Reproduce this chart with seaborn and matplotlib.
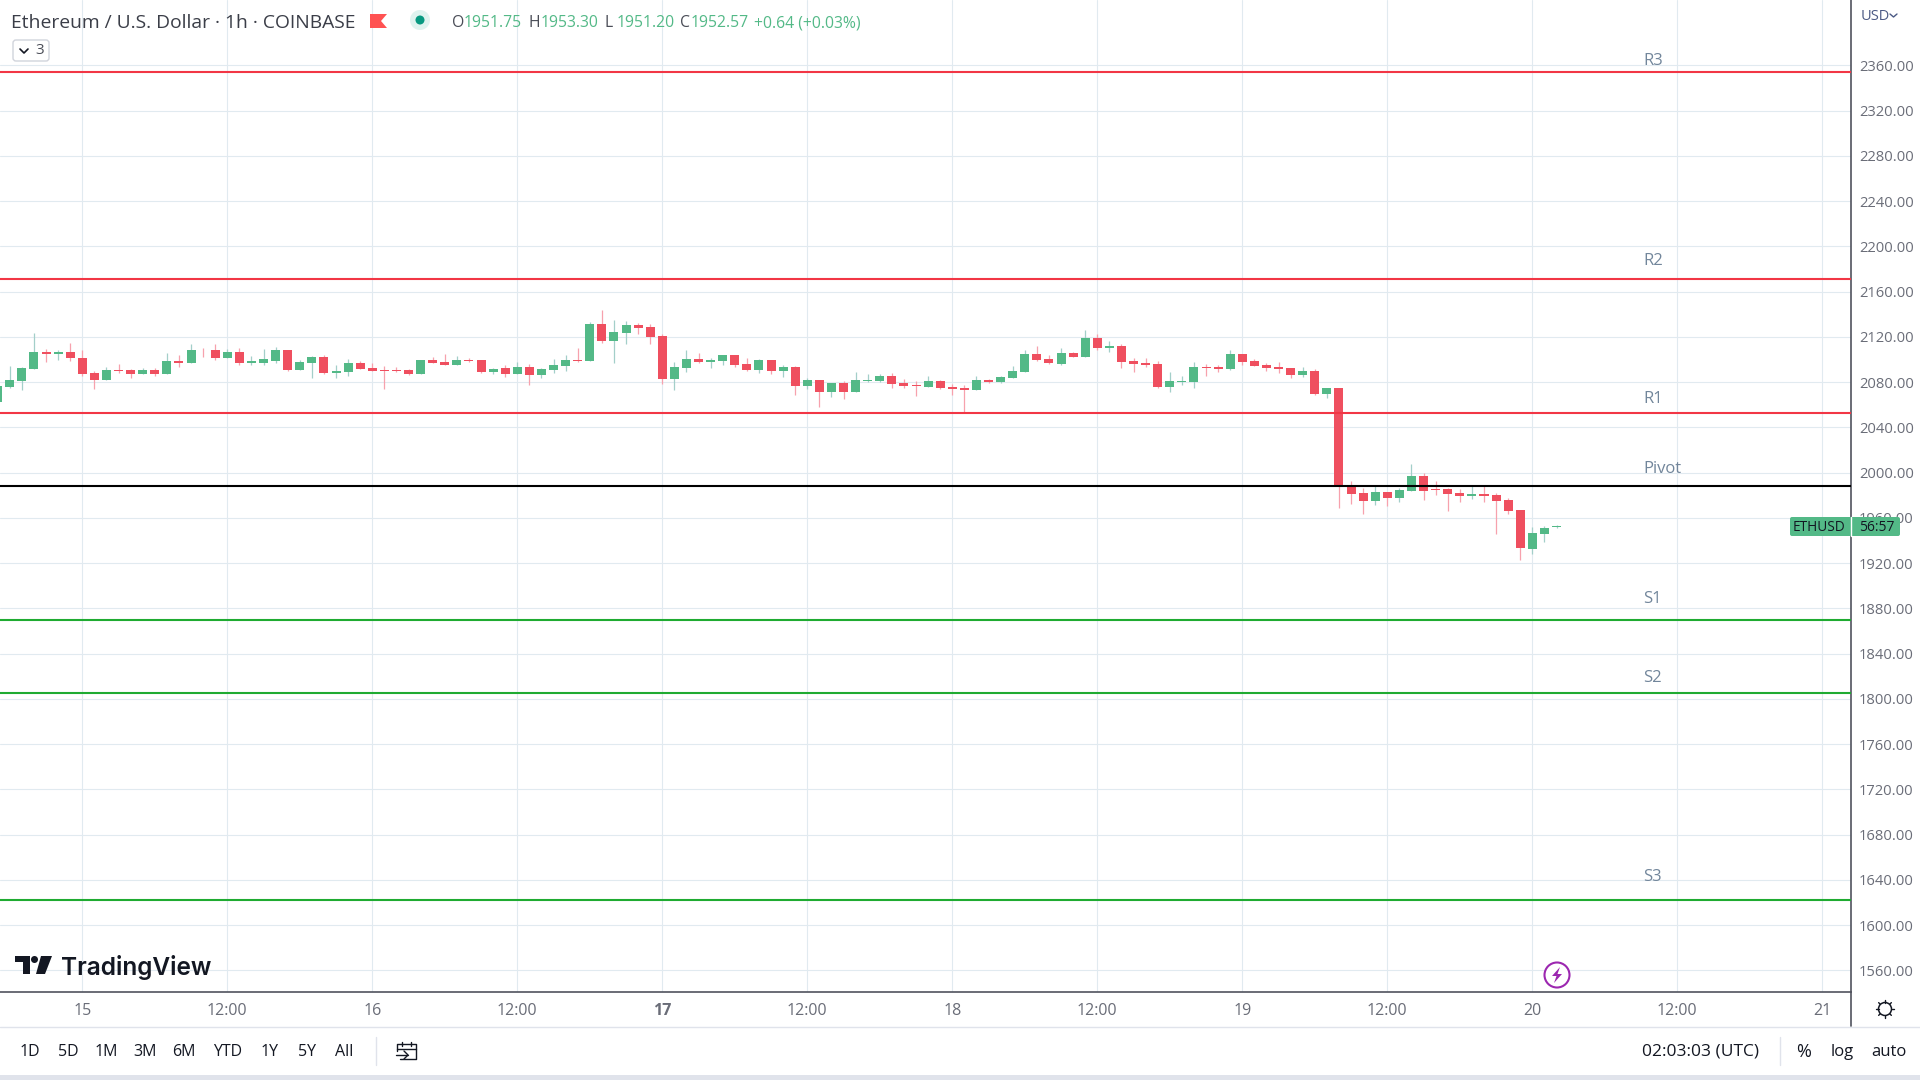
import matplotlib
matplotlib.use('Agg')
import matplotlib.pyplot as plt
from matplotlib.patches import Circle, Polygon, Rectangle, FancyBboxPatch
import numpy as np
import pandas as pd
import seaborn as sns

# hours counted from 15th 00:00, one candle per hour
first_hour = -7

opens = [
    2062.5, 2075.9, 2081.2, 2091.9, 2107.0, 2105.2, 2107.0,
    2101.6, 2088.3, 2082.1, 2091.0, 2091.0, 2087.4, 2091.0, 2087.4, 2099.0, 2097.2,
    2108.7, 2108.7, 2101.6, 2107.0, 2097.2, 2097.2, 2099.0, 2108.7, 2091.0, 2097.2,
    2102.5, 2088.3, 2089.2, 2097.2, 2092.7, 2091.0, 2091.0, 2091.0, 2087.4, 2099.9,
    2098.1, 2095.4, 2099.9, 2099.9, 2089.2, 2092.7, 2087.4, 2093.6, 2086.5, 2091.0,
    2094.5, 2099.9, 2099.0, 2131.0, 2115.9, 2123.0, 2130.1, 2128.3, 2120.3, 2083.0,
    2092.7, 2100.7, 2098.1, 2099.0, 2104.3, 2096.3, 2091.0, 2099.9, 2090.1, 2093.6,
    2076.7, 2082.1, 2071.4, 2079.4, 2071.4, 2081.2, 2081.2, 2085.6, 2079.4, 2077.6,
    2075.9, 2081.2, 2075.9, 2075.0, 2073.2, 2082.1, 2080.3, 2083.9, 2089.2, 2105.2,
    2100.7, 2096.3, 2106.1, 2102.5, 2118.5, 2110.5, 2112.3, 2099.0, 2097.2, 2096.3,
    2075.9, 2080.3, 2080.3, 2093.6, 2093.6, 2091.9, 2105.2, 2099.0, 2095.4, 2093.6,
    2092.7, 2086.5, 2090.1, 2069.6, 2075.0, 1988.7, 1981.6, 1974.5, 1982.5, 1977.2,
    1983.4, 1996.7, 1985.2, 1985.2, 1981.6, 1979.0, 1980.7, 1979.9, 1975.4, 1966.5,
    1932.7, 1946.1, 1951.75,
]
highs = [
    2076.7, 2094.5, 2093.6, 2123.0, 2109.6, 2108.7, 2114.1,
    2108.7, 2090.1, 2093.6, 2096.3, 2091.9, 2092.7, 2092.7, 2106.1, 2104.3, 2113.2,
    2110.5, 2113.2, 2109.6, 2110.5, 2103.4, 2109.6, 2111.4, 2108.7, 2099.9, 2103.4,
    2104.3, 2095.4, 2100.7, 2099.0, 2097.2, 2094.5, 2093.6, 2091.9, 2099.9, 2102.5,
    2105.2, 2103.4, 2101.6, 2099.9, 2092.7, 2095.4, 2098.1, 2096.3, 2092.7, 2100.7,
    2104.3, 2110.5, 2132.7, 2143.4, 2134.5, 2133.6, 2131.9, 2131.0, 2122.1, 2098.1,
    2108.7, 2106.1, 2101.6, 2104.3, 2104.3, 2101.6, 2100.7, 2099.9, 2095.4, 2094.5,
    2083.9, 2082.1, 2079.4, 2081.2, 2089.2, 2087.4, 2087.4, 2088.3, 2083.0, 2081.2,
    2085.6, 2082.1, 2078.5, 2077.6, 2085.6, 2083.0, 2085.6, 2094.5, 2107.9, 2112.3,
    2104.3, 2110.5, 2107.0, 2125.6, 2122.1, 2115.9, 2113.2, 2101.6, 2101.6, 2099.0,
    2089.2, 2085.6, 2098.1, 2096.3, 2095.4, 2108.7, 2105.2, 2100.7, 2097.2, 2098.1,
    2092.7, 2093.6, 2091.9, 2075.0, 2075.0, 1992.3, 1986.1, 1987.9, 1982.5, 1986.1,
    2007.4, 1999.4, 1992.3, 1986.1, 1985.2, 1987.9, 1987.9, 1981.6, 1977.2, 1966.5,
    1952.3, 1953.2, 1953.30,
]
lows = [
    2062.5, 2075.0, 2073.2, 2091.9, 2098.1, 2099.9, 2099.0,
    2085.6, 2074.1, 2082.1, 2088.3, 2083.9, 2087.4, 2085.6, 2087.4, 2093.6, 2097.2,
    2102.5, 2099.9, 2101.6, 2095.4, 2095.4, 2095.4, 2097.2, 2090.1, 2091.0, 2083.9,
    2087.4, 2083.9, 2085.6, 2091.9, 2090.1, 2074.1, 2089.2, 2086.5, 2087.4, 2097.2,
    2095.4, 2095.4, 2098.1, 2088.3, 2087.4, 2084.7, 2087.4, 2077.6, 2083.9, 2088.3,
    2090.1, 2098.1, 2099.0, 2114.1, 2097.2, 2113.2, 2122.1, 2113.2, 2078.5, 2073.2,
    2089.2, 2097.2, 2092.7, 2095.4, 2093.6, 2090.1, 2088.3, 2087.4, 2084.7, 2068.7,
    2074.1, 2058.1, 2067.0, 2065.2, 2071.4, 2080.3, 2080.3, 2075.0, 2075.0, 2067.9,
    2075.9, 2074.1, 2068.7, 2052.7, 2073.2, 2079.4, 2079.4, 2083.9, 2089.2, 2099.0,
    2096.3, 2095.4, 2102.5, 2102.5, 2107.9, 2107.0, 2092.7, 2089.2, 2093.6, 2075.0,
    2071.4, 2077.6, 2075.0, 2085.6, 2089.2, 2091.0, 2095.4, 2094.5, 2090.1, 2088.3,
    2083.9, 2084.7, 2068.7, 2066.1, 1968.3, 1971.9, 1963.0, 1971.0, 1970.1, 1973.6,
    1983.4, 1975.4, 1979.9, 1965.6, 1973.6, 1976.3, 1973.6, 1946.1, 1963.0, 1923.0,
    1928.3, 1938.9, 1951.20,
]
closes = [
    2076.7, 2082.1, 2092.7, 2107.0, 2105.2, 2107.0, 2101.6,
    2087.4, 2082.1, 2091.0, 2090.1, 2087.4, 2091.0, 2087.4, 2099.0, 2097.2, 2108.7,
    2107.9, 2101.6, 2107.0, 2097.2, 2099.0, 2100.7, 2108.7, 2091.0, 2098.1, 2102.5,
    2088.3, 2090.1, 2097.2, 2091.9, 2090.1, 2090.1, 2090.1, 2087.4, 2099.9, 2097.2,
    2095.4, 2099.9, 2099.0, 2089.2, 2091.9, 2087.4, 2093.6, 2086.5, 2091.9, 2095.4,
    2099.9, 2099.0, 2131.0, 2115.9, 2123.9, 2130.1, 2127.4, 2119.4, 2083.0, 2093.6,
    2100.7, 2098.1, 2099.9, 2104.3, 2095.4, 2091.0, 2099.9, 2090.1, 2093.6, 2076.7,
    2082.1, 2071.4, 2079.4, 2071.4, 2082.1, 2082.1, 2085.6, 2078.5, 2076.7, 2076.7,
    2081.2, 2075.0, 2074.1, 2073.2, 2082.1, 2080.3, 2084.7, 2090.1, 2105.2, 2099.9,
    2097.2, 2106.1, 2102.5, 2118.5, 2110.5, 2112.3, 2098.1, 2096.3, 2095.4, 2075.9,
    2081.2, 2081.2, 2093.6, 2092.7, 2091.9, 2105.2, 2098.1, 2094.5, 2092.7, 2091.9,
    2086.5, 2090.1, 2069.6, 2075.0, 1988.7, 1980.7, 1974.5, 1982.5, 1977.2, 1984.3,
    1996.7, 1983.4, 1984.3, 1980.7, 1979.0, 1980.7, 1979.0, 1974.5, 1965.6, 1933.6,
    1947.0, 1951.4, 1952.57,
]

level_names = ['R3', 'R2', 'R1', 'Pivot', 'S1', 'S2', 'S3']
level_prices = [2354.3, 2170.9, 2052.7, 1987.9, 1869.7, 1805.1, 1622.1]
level_colors = ['#f23645', '#f23645', '#f23645', '#000000', '#1fab31', '#1fab31', '#1fab31']

price_ticks = list(range(1560, 2361, 40))
time_ticks = list(range(0, 145, 12))
time_labels = ['15', '12:00', '16', '12:00', '17', '12:00', '18', '12:00', '19', '12:00', '20', '12:00', '21']
range_buttons = ['1D', '5D', '1M', '3M', '6M', 'YTD', '1Y', '5Y', 'All']

UP = '#53b987'
DOWN = '#ef4f5f'
UP_WICK = '#a3cfc9'
DOWN_WICK = '#f7a1ad'
AXIS = '#50535e'
GRID = '#e1eaf0'
TICK = '#6a6d78'
INK = '#131722'

sns.set_theme(style='white')
plt.rcParams['font.family'] = ['Open Sans', 'DejaVu Sans']

df = pd.DataFrame({'open': opens, 'high': highs, 'low': lows, 'close': closes})
df['hour'] = first_hour + np.arange(len(df))
df['base'] = df[['open', 'close']].min(axis=1)
df['size'] = (df['close'] - df['open']).abs()
up = df[df['close'] >= df['open']]
down = df[df['close'] < df['open']]

fig = plt.figure(figsize=(19.2, 10.8), dpi=100, facecolor='white')
ax = fig.add_axes([0, 1 - 992.3 / 1080, 1850.5 / 1920, 992.3 / 1080])

ax.vlines(up['hour'], up['low'], up['high'], color=UP_WICK, linewidth=0.9, zorder=2)
ax.vlines(down['hour'], down['low'], down['high'], color=DOWN_WICK, linewidth=0.9, zorder=2)
for part, colour in [(up, UP), (down, DOWN)]:
    sns.barplot(data=part, x='hour', y='size', bottom=part['base'].values, color=colour,
                saturation=1, width=0.745, native_scale=True, errorbar=None,
                linewidth=0, zorder=3, ax=ax)

for price, colour in zip(level_prices, level_colors):
    ax.axhline(price, color=colour, linewidth=1.5, zorder=4)

ax.set_xlim(-6.81, 146.33)
ax.set_ylim(1540.6, 2417.7)
ax.set_xlabel('')
ax.set_ylabel('')
ax.set_axisbelow(True)
ax.grid(True, color=GRID, linewidth=0.8)

ax.yaxis.tick_right()
ax.set_yticks(price_ticks)
ax.set_yticklabels([f'{p:.2f}' for p in price_ticks], fontsize=10.6, color=TICK)
ax.set_xticks(time_ticks)
ax.set_xticklabels(time_labels, fontsize=11.5, color=TICK)
ax.get_xticklabels()[4].set_fontweight('bold')
ax.tick_params(axis='y', length=0, pad=6)
ax.tick_params(axis='x', length=0, pad=8)
for side in ['top', 'left']:
    ax.spines[side].set_visible(False)
for side in ['right', 'bottom']:
    ax.spines[side].set_color(AXIS)
    ax.spines[side].set_linewidth(1.2)

# everything around the chart sits on an overlay in pixel coordinates
ui = fig.add_axes([0, 0, 1, 1], zorder=5)
ui.set_xlim(0, 1920)
ui.set_ylim(1080, 0)
ui.axis('off')
ui.patch.set_alpha(0)

# header
ui.text(11, 23, 'Ethereum / U.S. Dollar · 1h · COINBASE', fontsize=13.9, color='#3b3e48', va='center')
ui.add_patch(Polygon([(370, 14), (387, 14), (381, 21), (387, 28), (370, 28)], color='#ff5252', lw=0))
ui.add_patch(Circle((420, 20), 10, color='#dff3ef', lw=0))
ui.add_patch(Circle((420, 20), 4.5, color='#089981', lw=0))
header = [(452, 'O', INK), (464, '1951.75', UP), (529, 'H', INK), (541, '1953.30', UP),
          (605, 'L', INK), (617, '1951.20', UP), (680, 'C', INK), (691, '1952.57', UP),
          (754, '+0.64 (+0.03%)', UP)]
for x, label, colour in header:
    ui.text(x, 23, label, fontsize=11.3, color=colour if colour == UP else '#4a4d57', va='center')

ui.add_patch(FancyBboxPatch((13, 40), 36, 21, boxstyle='round,pad=0,rounding_size=3',
                            facecolor='white', edgecolor='#d1d4dc', linewidth=1))
ui.plot([20, 24, 28], [49, 53, 49], color=INK, linewidth=1.2)
ui.text(40, 50.5, '3', fontsize=11, color='#4a4d57', ha='center', va='center')

# pivot level names
name_y = [61, 261, 399, 469, 599, 678, 877]
for name, y in zip(level_names, name_y):
    ui.text(1643, y, name, fontsize=12, color='#72869b', va='center')

# currency + countdown tag
ui.text(1875, 16, 'USD', fontsize=10.5, color='#4c5a85', ha='center', va='center')
ui.plot([1890, 1893.5, 1897], [14, 17, 14], color='#4c5a85', linewidth=1)
ui.add_patch(FancyBboxPatch((1790, 517), 110, 19, boxstyle='round,pad=0,rounding_size=2',
                            facecolor=UP, edgecolor='none'))
ui.plot([1850.5, 1850.5], [517, 536], color='white', linewidth=1)
ui.text(1819, 527.5, 'ETHUSD', fontsize=9.8, color=INK, ha='center', va='center')
ui.text(1877, 527.5, '56:57', fontsize=10, color=INK, ha='center', va='center')

# logo
ui.add_patch(Polygon([(15, 956), (30, 956), (30, 974), (22.5, 974), (22.5, 962), (15, 962)], color=INK, lw=0))
ui.add_patch(Circle((34.5, 959.5), 3.5, color=INK, lw=0))
ui.add_patch(Polygon([(41, 956), (52, 956), (45, 974), (36, 974)], color=INK, lw=0))
ui.text(61, 967, 'TradingView', fontsize=17.6, fontweight='semibold', family=['Inter', 'DejaVu Sans'],
        color=INK, va='center')

# bolt marker
ui.add_patch(Circle((1557, 975), 12.5, facecolor='white', edgecolor='#9c27b0', linewidth=1.5))
ui.add_patch(Polygon([(1560, 967), (1552, 976), (1556.5, 976), (1554, 983), (1562, 974), (1557.5, 974)],
                     color='#9c27b0', lw=0))

# bottom toolbar
ui.plot([0, 1920], [1026.5, 1026.5], color='#e0e3eb', linewidth=1)
ui.plot([1850.5, 1850.5], [992, 1026], color=AXIS, linewidth=1.2)
ui.add_patch(Rectangle((0, 1075), 1920, 5, color='#e0e3eb', lw=0))
ui.plot([375.5, 375.5], [1037, 1065], color='#e0e3eb', linewidth=1)
ui.plot([1779.5, 1779.5], [1037, 1065], color='#e0e3eb', linewidth=1)
button_x = [30, 68, 106, 145, 184, 228, 270, 307, 344]
for x, label in zip(button_x, range_buttons):
    ui.text(x, 1052, label, fontsize=11.5, color=INK, ha='center', va='center')
ui.text(1700, 1052, '02:03:03 (UTC)', fontsize=12.5, color=INK, ha='center', va='center')
ui.text(1804, 1052, '%', fontsize=13, color=INK, ha='center', va='center')
ui.text(1842, 1052, 'log', fontsize=12, color=INK, ha='center', va='center')
ui.text(1889, 1052, 'auto', fontsize=12, color=INK, ha='center', va='center')

# calendar icon
ui.plot([397, 397, 416, 416, 400], [1051, 1044, 1044, 1059, 1059], color=INK, linewidth=1)
ui.plot([397, 416], [1048.5, 1048.5], color=INK, linewidth=1)
ui.plot([402, 402], [1042, 1046], color=INK, linewidth=1)
ui.plot([411, 411], [1042, 1046], color=INK, linewidth=1)
ui.plot([396, 408], [1055, 1055], color=INK, linewidth=1)
ui.plot([404, 408, 404], [1051, 1055, 1059], color=INK, linewidth=1)

# gear icon
ui.add_patch(Circle((1885, 1009), 6.5, facecolor='white', edgecolor=INK, linewidth=1.1))
for angle in np.arange(0, 360, 45):
    dx, dy = np.cos(np.radians(angle)), np.sin(np.radians(angle))
    ui.plot([1885 + 6.5 * dx, 1885 + 9 * dx], [1009 + 6.5 * dy, 1009 + 9 * dy], color=INK, linewidth=1)

fig.savefig('out.png', dpi=100)
plt.close(fig)
